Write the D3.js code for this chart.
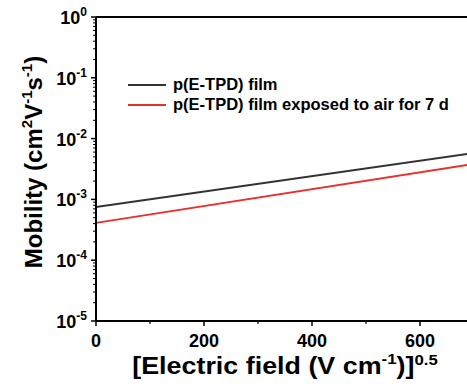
<!DOCTYPE html>
<html>
<head>
<meta charset="utf-8">
<script src="https://cdn.jsdelivr.net/npm/d3@7"></script>
<style>
  html, body { margin: 0; padding: 0; background: #fff; }
  svg { display: block; font-family: Arial, "Liberation Sans", sans-serif; font-weight: bold; }
</style>
</head>
<body>
<svg id="chart" width="467" height="387"></svg>
<script>
// Field (sqrt of E) at which each fitted line is evaluated
const fieldSqrt = [0, 700];
// Mobility fits, cm^2 V^-1 s^-1
const mobilityFresh = [7.5e-4, 5.8e-3];
const mobilityAged = [4.1e-4, 3.84e-3];
const seriesNames = ["p(E-TPD) film", "p(E-TPD) film exposed to air for 7 d"];
const seriesColors = ["#333333", "#e8302d"];
const xTickValues = [0, 200, 400, 600];
const xMinorValues = [100, 300, 500];
const yDecades = [0, -1, -2, -3, -4, -5];

const svg = d3.select("#chart");
const plotLeft = 96, plotTop = 17, plotBottom = 321;

const x = d3.scaleLinear().domain([0, 700]).range([plotLeft, plotLeft + 378]);
const y = d3.scaleLog().domain([1e-5, 1]).range([plotBottom, plotTop]);

// plot lines
const series = [mobilityFresh, mobilityAged];
const line = d3.line().x((d, i) => x(fieldSqrt[i])).y(d => y(d));
series.forEach((s, k) => {
  svg.append("path").datum(s)
    .attr("d", line)
    .attr("fill", "none")
    .attr("stroke", seriesColors[k])
    .attr("stroke-width", 1.8);
});

// frame: top border
svg.append("line")
  .attr("x1", plotLeft).attr("x2", 467).attr("y1", plotTop).attr("y2", plotTop)
  .attr("stroke", "#000").attr("stroke-width", 2);

// y axis line
svg.append("line")
  .attr("x1", plotLeft).attr("x2", plotLeft).attr("y1", plotTop).attr("y2", plotBottom)
  .attr("stroke", "#000").attr("stroke-width", 2);
// x axis line
svg.append("line")
  .attr("x1", plotLeft).attr("x2", 467).attr("y1", plotBottom).attr("y2", plotBottom)
  .attr("stroke", "#000").attr("stroke-width", 2);

// y ticks: majors at decades, minors at 2..9
yDecades.forEach(e => {
  const v = Math.pow(10, e);
  svg.append("line")
    .attr("x1", plotLeft - 5).attr("x2", plotLeft).attr("y1", y(v)).attr("y2", y(v))
    .attr("stroke", "#000").attr("stroke-width", 1.5);
  const t = svg.append("text")
    .attr("x", 87).attr("y", y(v) + 7)
    .attr("text-anchor", "end")
    .attr("font-size", 18);
  t.append("tspan").text("10");
  t.append("tspan").attr("dy", -8).attr("font-size", 12).text(String(e));
  if (e > -5) {
    for (let m = 2; m <= 9; m++) {
      const mv = m * Math.pow(10, e - 1);
      svg.append("line")
        .attr("x1", plotLeft - 3).attr("x2", plotLeft).attr("y1", y(mv)).attr("y2", y(mv))
        .attr("stroke", "#000").attr("stroke-width", 1);
    }
  }
});

// x ticks
xTickValues.forEach(v => {
  svg.append("line")
    .attr("x1", x(v)).attr("x2", x(v)).attr("y1", plotBottom).attr("y2", plotBottom + 5)
    .attr("stroke", "#000").attr("stroke-width", 1.5);
  svg.append("text")
    .attr("x", x(v)).attr("y", 347)
    .attr("text-anchor", "middle")
    .attr("font-size", 18)
    .text(v);
});
xMinorValues.forEach(v => {
  svg.append("line")
    .attr("x1", x(v)).attr("x2", x(v)).attr("y1", plotBottom).attr("y2", plotBottom + 3)
    .attr("stroke", "#000").attr("stroke-width", 1.2);
});

// legend
const legY = [85, 105];
seriesNames.forEach((name, k) => {
  svg.append("line")
    .attr("x1", 128).attr("x2", 166).attr("y1", legY[k]).attr("y2", legY[k])
    .attr("stroke", seriesColors[k]).attr("stroke-width", 1.8);
  svg.append("text")
    .attr("x", 173).attr("y", legY[k] + 5)
    .attr("font-size", 16.5)
    .text(name);
});

// x axis title
const xt = svg.append("text")
  .attr("transform", "translate(285,374) scale(1.12,1)")
  .attr("text-anchor", "middle")
  .attr("font-size", 24);
xt.append("tspan").text("[Electric field (V cm");
xt.append("tspan").attr("dy", -10).attr("font-size", 15).text("-1");
xt.append("tspan").attr("dy", 10).text(")]");
xt.append("tspan").attr("dy", -9).attr("font-size", 15).text("0.5");

// y axis title
const yt = svg.append("text")
  .attr("transform", "translate(42,162) rotate(-90)")
  .attr("text-anchor", "middle")
  .attr("font-size", 24);
yt.append("tspan").text("Mobility (cm");
yt.append("tspan").attr("dy", -10).attr("font-size", 15).text("2");
yt.append("tspan").attr("dy", 10).text("V");
yt.append("tspan").attr("dy", -10).attr("font-size", 15).text("-1");
yt.append("tspan").attr("dy", 10).text("s");
yt.append("tspan").attr("dy", -10).attr("font-size", 15).text("-1");
yt.append("tspan").attr("dy", 10).text(")");
</script>
</body>
</html>
